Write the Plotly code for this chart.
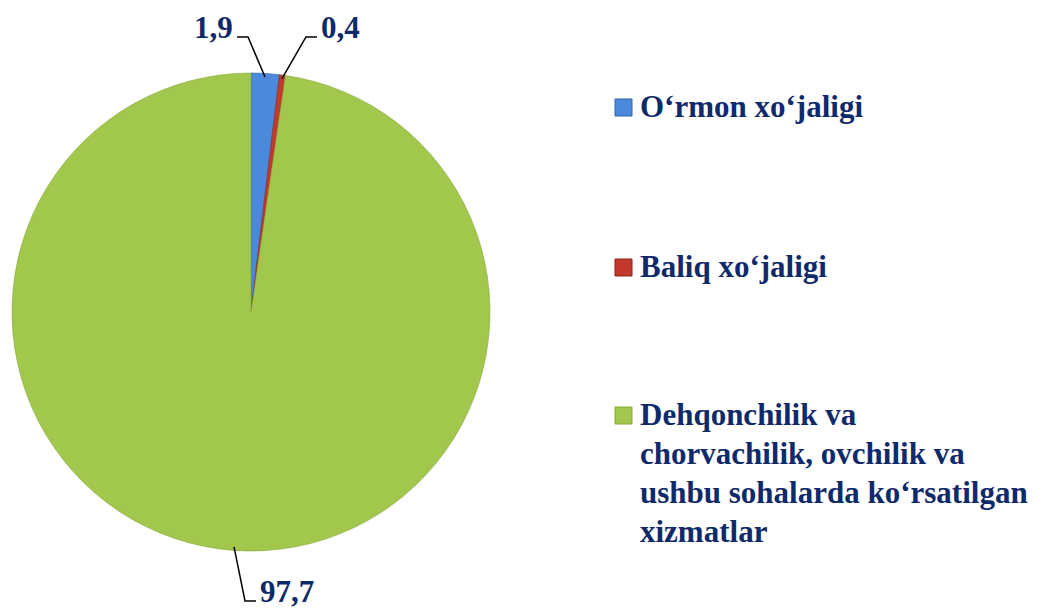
import math
import plotly.graph_objects as go

# ---- data ----
categories = [
    "O‘rmon xo‘jaligi",
    "Baliq xo‘jaligi",
    "Dehqonchilik va<br>chorvachilik, ovchilik va<br>ushbu sohalarda ko‘rsatilgan<br>xizmatlar",
]
values = [1.9, 0.4, 97.7]
value_labels = ["1,9", "0,4", "97,7"]
colors = ["#4a89dc", "#c33a2c", "#a1c74d"]
edge_colors = ["#2f64aa", "#8e2418", "#86a83a"]

W, H = 1042, 609
TXT = "#0f2a6a"
FONT = "Liberation Serif, Times New Roman, serif"

# pie geometry (pixels)
cx, cy, R = 251, 312, 239


def px(x):
    return x / W


def py(y):
    return 1 - y / H


fig = go.Figure()
fig.add_trace(go.Pie(
    labels=[c.replace("<br>", " ") for c in categories],
    values=values,
    sort=False,
    direction="clockwise",
    rotation=0,
    textinfo="none",
    hoverinfo="label+value",
    marker=dict(colors=colors, line=dict(color=edge_colors, width=0.6)),
    domain=dict(x=[px(cx - R), px(cx + R)], y=[py(cy + R), py(cy - R)]),
    showlegend=False,
))

shapes = []
annotations = []

# leader lines + value labels, anchored at each slice's mid-angle
total = sum(values)
cum = 0.0
# styling per label: (elbow dx, elbow y, horizontal dir)
label_style = [(-17, 37, -1), (24, 37, 1), (11, 601, 1)]
for i, v in enumerate(values):
    mid = (cum + v / 2) / total * 2 * math.pi
    cum += v
    ax = cx + 0.985 * R * math.sin(mid)
    ay = cy - 0.985 * R * math.cos(mid)
    dx, ey, d = label_style[i]
    ex = ax + dx
    hx = ex + d * 11
    path = f"M {px(ax)},{py(ay)} L {px(ex)},{py(ey)} L {px(hx)},{py(ey)}"
    shapes.append(dict(type="path", xref="paper", yref="paper", path=path,
                       line=dict(color="black", width=1.5)))
    annotations.append(dict(
        x=px(hx + d * 2), y=py(ey + 10), xref="paper", yref="paper",
        text=f"<b>{value_labels[i]}</b>", showarrow=False,
        xanchor="right" if d < 0 else "left", yanchor="bottom",
        font=dict(family=FONT, size=31, color=TXT),
    ))

# manual legend
legend_tops = [87, 247, 395]
LINE_H = 39
for i, cat in enumerate(categories):
    top = legend_tops[i]
    mid_y = top + 20
    shapes.append(dict(type="rect", xref="paper", yref="paper",
                       x0=px(615), x1=px(632), y0=py(mid_y - 8), y1=py(mid_y + 9),
                       fillcolor=colors[i], line=dict(color=edge_colors[i], width=1)))
    for j, line in enumerate(cat.split("<br>")):
        annotations.append(dict(
            x=px(638), y=py(top + j * LINE_H), xref="paper", yref="paper",
            text=f"<b>{line}</b>", showarrow=False, align="left",
            xanchor="left", yanchor="top",
            font=dict(family=FONT, size=31, color=TXT),
        ))

fig.update_layout(
    width=W, height=H,
    margin=dict(l=0, r=0, t=0, b=0),
    paper_bgcolor="white", plot_bgcolor="white",
    shapes=shapes, annotations=annotations,
)

fig.write_html("out.html",
               config={"displayModeBar": False},
               post_script="document.body.style.margin='0';document.body.style.overflow='hidden';")
